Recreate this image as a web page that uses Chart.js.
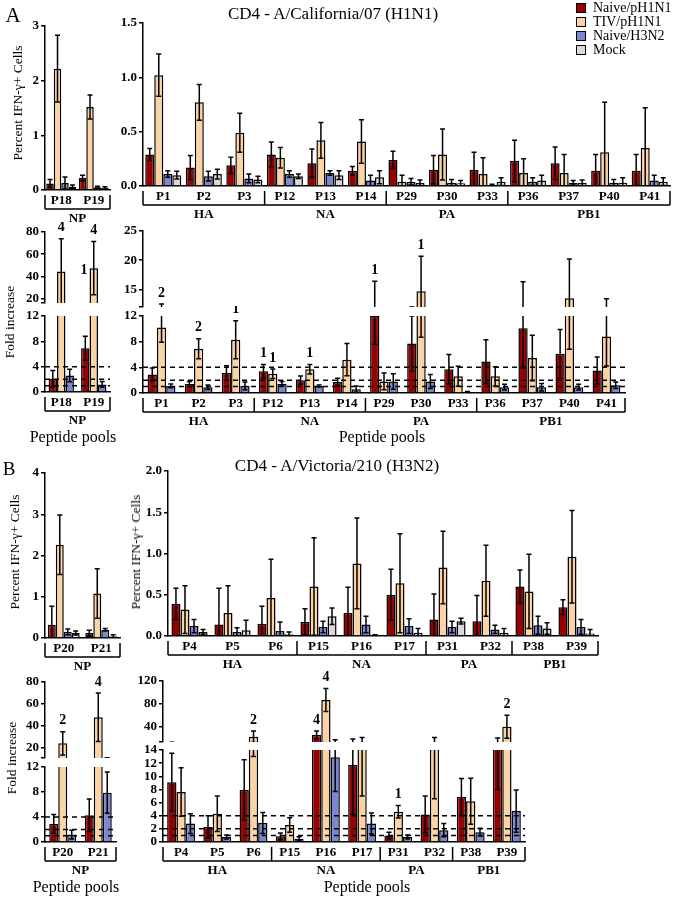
<!DOCTYPE html>
<html lang="en">
<head>
<meta charset="UTF-8">
<title>CD4 IFN-γ responses to peptide pools</title>
<script src="https://cdn.jsdelivr.net/npm/chart.js"></script>
<style>
  body { margin: 0; background: #fff; }
  #fig { position: relative; width: 675px; height: 898px; overflow: hidden;
         font-family: "Liberation Serif", "Times New Roman", serif; color: #000; }
  #fig canvas { position: absolute; }
  .t { position: absolute; white-space: nowrap; line-height: 14px; transform: translate(-50%, -50%); }
  .t.v { transform: translate(-50%, -50%) rotate(-90deg); }
  .legend { position: absolute; left: 576px; top: 1px; font-size: 14px; }
  .legend div { display: flex; align-items: center; height: 14px; }
  .legend span { display: inline-block; width: 8px; height: 8px; border: 1.5px solid #000; margin-right: 7px; }
</style>
</head>
<body>
<div id="fig"></div>
<script>
// ---------- data, panel A : CD4 - A/California/07 (H1N1) ----------
const catsA_NP = ['P18', 'P19'];
const catsA = ['P1', 'P2', 'P3', 'P12', 'P13', 'P14', 'P29', 'P30', 'P33', 'P36', 'P37', 'P40', 'P41'];
const groupNamesA = ['HA', 'NA', 'PA', 'PB1'];
const groupSizesA = [3, 3, 3, 4];

const pctA_NP_naiveH1 = [0.12, 0.22];
const pctA_NP_naiveH1Err = [0.07, 0.05];
const pctA_NP_tiv = [2.22, 1.52];
const pctA_NP_tivErr = [0.61, 0.22];
const pctA_NP_naiveH3 = [0.13, 0.05];
const pctA_NP_naiveH3Err = [0.11, 0.02];
const pctA_NP_mock = [0.06, 0.04];
const pctA_NP_mockErr = [0.03, 0.02];

const pctA_naiveH1 = [0.29, 0.17, 0.19, 0.29, 0.21, 0.14, 0.24, 0.15, 0.15, 0.23, 0.21, 0.14, 0.14];
const pctA_naiveH1Err = [0.055, 0.11, 0.075, 0.115, 0.13, 0.04, 0.08, 0.13, 0.16, 0.19, 0.15, 0.15, 0.15];
const pctA_tiv = [1.02, 0.77, 0.49, 0.26, 0.42, 0.41, 0.04, 0.29, 0.11, 0.12, 0.12, 0.31, 0.35];
const pctA_tivErr = [0.195, 0.165, 0.18, 0.095, 0.165, 0.2, 0.06, 0.235, 0.15, 0.13, 0.17, 0.46, 0.37];
const pctA_naiveH3 = [0.11, 0.09, 0.07, 0.11, 0.12, 0.05, 0.04, 0.03, 0.01, 0.04, 0.03, 0.03, 0.05];
const pctA_naiveH3Err = [0.03, 0.045, 0.04, 0.03, 0.02, 0.05, 0.03, 0.03, 0.005, 0.035, 0.02, 0.03, 0.05];
const pctA_mock = [0.10, 0.11, 0.06, 0.09, 0.10, 0.08, 0.03, 0.025, 0.04, 0.05, 0.03, 0.03, 0.04];
const pctA_mockErr = [0.035, 0.045, 0.03, 0.02, 0.04, 0.06, 0.025, 0.025, 0.035, 0.05, 0.025, 0.045, 0.035];

const foldA_NP_naiveH1 = [2.1, 6.9];
const foldA_NP_naiveH1Err = [1.3, 1.9];
const foldA_NP_tiv = [44.4, 47.4];
const foldA_NP_tivErr = [29.5, 24];
const foldA_NP_naiveH3 = [2.6, 1.2];
const foldA_NP_naiveH3Err = [1.0, 0.45];
const foldA_NP_tivMarks = ['4', '4'];
const foldA_NP_tivSideMarks = ['', '1'];

const foldA_naiveH1 = [2.9, 1.4, 3.1, 3.4, 2.0, 1.7, 12, 7.7, 3.7, 4.9, 10.1, 6.1, 3.5];
const foldA_naiveH1Err = [1.0, 0.4, 1.15, 1.05, 0.65, 0.6, 4.4, 4.3, 2.3, 3.4, 6.2, 3.8, 2.1];
const foldA_tiv = [10.2, 6.9, 8.3, 3.0, 3.7, 5.2, 1.8, 14.7, 2.6, 2.6, 5.45, 13.5, 8.8];
const foldA_tivErr = [2.3, 1.55, 2.95, 0.75, 0.75, 2.5, 1.3, 6.0, 1.55, 1.5, 3.55, 6.7, 4.6];
const foldA_naiveH3 = [1.1, 0.9, 1.1, 1.45, 1.1, 0.6, 1.8, 1.8, 0.15, 0.9, 0.9, 0.9, 1.2];
const foldA_naiveH3Err = [0.3, 0.35, 0.6, 0.35, 0.15, 0.5, 1.2, 1.1, 0.1, 0.45, 0.6, 0.45, 0.5];
const foldA_naiveH1Marks = ['', '', '', '1', '', '', '1', '', '', '', '', '', ''];
const foldA_tivMarks = ['2', '2', '1', '1', '1', '', '', '1', '', '', '', '', ''];

// ---------- data, panel B : CD4 - A/Victoria/210 (H3N2) ----------
const catsB_NP = ['P20', 'P21'];
const catsB = ['P4', 'P5', 'P6', 'P15', 'P16', 'P17', 'P31', 'P32', 'P38', 'P39'];
const groupNamesB = ['HA', 'NA', 'PA', 'PB1'];
const groupSizesB = [3, 3, 2, 2];

const pctB_NP_naiveH1 = [0.32, 0.12];
const pctB_NP_naiveH1Err = [0.45, 0.07];
const pctB_NP_tiv = [2.26, 1.08];
const pctB_NP_tivErr = [0.72, 0.6];
const pctB_NP_naiveH3 = [0.15, 0.2];
const pctB_NP_naiveH3Err = [0.07, 0.03];
const pctB_NP_mock = [0.12, 0.04];
const pctB_NP_mockErr = [0.05, 0.04];

const pctB_naiveH1 = [0.39, 0.14, 0.15, 0.17, 0.28, 0.5, 0.2, 0.18, 0.6, 0.35];
const pctB_naiveH1Err = [0.19, 0.44, 0.21, 0.16, 0.31, 0.31, 0.31, 0.31, 0.2, 0.09];
const pctB_tiv = [0.32, 0.28, 0.46, 0.6, 0.88, 0.64, 0.83, 0.67, 0.54, 0.96];
const pctB_tivErr = [0.29, 0.33, 0.47, 0.59, 0.55, 0.6, 0.44, 0.43, 0.45, 0.56];
const pctB_naiveH3 = [0.12, 0.05, 0.06, 0.11, 0.14, 0.12, 0.11, 0.08, 0.13, 0.11];
const pctB_naiveH3Err = [0.08, 0.05, 0.11, 0.07, 0.1, 0.09, 0.07, 0.05, 0.11, 0.09];
const pctB_mock = [0.05, 0.07, 0.02, 0.24, 0.01, 0.04, 0.18, 0.04, 0.09, 0.03];
const pctB_mockErr = [0.03, 0.12, 0.03, 0.1, 0.005, 0.05, 0.035, 0.05, 0.07, 0.05];

const foldB_NP_naiveH1 = [2.9, 4.3];
const foldB_NP_naiveH1Err = [1.5, 2.6];
const foldB_NP_tiv = [24.3, 47.9];
const foldB_NP_tivErr = [10.5, 22];
const foldB_NP_naiveH3 = [1.2, 7.9];
const foldB_NP_naiveH3Err = [0.7, 3.3];
const foldB_NP_tivMarks = ['2', '4'];

const foldB_naiveH1 = [9.1, 2.3, 7.9, 0.86, 26, 11.7, 1.0, 4.2, 6.85, 14.5];
const foldB_naiveH1Err = [4.4, 1.7, 4.6, 0.5, 7, 7.5, 0.5, 2.8, 2.8, 6.5];
const foldB_tiv = [7.6, 4.3, 23, 2.6, 87, 14.5, 4.6, 14.2, 6.2, 40.5];
const foldB_tivErr = [3.7, 2.7, 10, 1.1, 20, 7.5, 0.95, 7.6, 3.5, 20];
const foldB_naiveH3 = [2.8, 0.76, 2.9, 0.5, 12.9, 2.8, 0.76, 1.8, 1.5, 4.7];
const foldB_naiveH3Err = [1.5, 0.3, 1.6, 0.3, 5.2, 1.6, 0.3, 1.0, 0.6, 3.2];
const foldB_naiveH1Marks = ['', '', '', '', '4', '', '', '', '', ''];
const foldB_tivMarks = ['', '', '2', '', '4', '', '1', '', '', '2'];

// ---------- axes ----------
const ticksPctA_NP = [0, 1, 2, 3];
const ticksPctA = [0, 0.5, 1.0, 1.5];
const ticksFoldA_NP_upper = [20, 40, 60, 80];
const ticksFoldA_upper = [15, 20, 25];
const ticksFoldLow12 = [0, 4, 8, 12];
const ticksPctB_NP = [0, 1, 2, 3, 4];
const ticksPctB = [0, 0.5, 1.0, 1.5, 2.0];
const ticksFoldB_NP_upper = [20, 40, 60, 80];
const ticksFoldB_upper = [40, 80, 120];
const ticksFoldB_lower = [0, 2, 4, 6, 8, 10, 12, 14];
const cutoffs = [1, 2, 4];

const seriesNames = ['Naive/pH1N1', 'TIV/pH1N1', 'Naive/H3N2', 'Mock'];
const seriesColors = ['#990000', '#fbd3a4', '#7b87d1', '#d9d9d9'];

// ---------- drawing ----------
Chart.defaults.font.family = '"Liberation Serif", "Times New Roman", serif';
Chart.defaults.color = '#000';

const fig = document.getElementById('fig');
const YW = 40, PT = 10, PR = 6, XH = 42;

function text(str, x, y, size, opts = {}) {
  const d = document.createElement('div');
  d.className = 't' + (opts.vertical ? ' v' : '');
  d.style.left = x + 'px';
  d.style.top = y + 'px';
  d.style.fontSize = size + 'px';
  if (opts.bold) d.style.fontWeight = 'bold';
  d.textContent = str;
  fig.appendChild(d);
}

function overlay(p) {
  return {
    id: 'overlay',
    afterDatasetsDraw(chart) {
      const { ctx, chartArea: a, scales: { y } } = chart;
      ctx.save();
      ctx.beginPath();
      ctx.rect(a.left, a.top, a.right - a.left, a.bottom - a.top);
      ctx.clip();
      ctx.strokeStyle = '#000';
      ctx.lineWidth = 1.5;
      // error bars
      chart.data.datasets.forEach((ds, i) => {
        chart.getDatasetMeta(i).data.forEach((el, j) => {
          const v = ds.data[j], e = ds.err[j];
          const yt = y.getPixelForValue(v + e);
          const yb = y.getPixelForValue(Math.max(v - e, 0));
          ctx.beginPath();
          ctx.moveTo(el.x, yt); ctx.lineTo(el.x, yb);
          ctx.moveTo(el.x - 2.5, yt); ctx.lineTo(el.x + 2.5, yt);
          ctx.moveTo(el.x - 2.5, yb); ctx.lineTo(el.x + 2.5, yb);
          ctx.stroke();
        });
      });
      // response cut-offs
      if (p.dashed) {
        ctx.setLineDash([5, 4]);
        p.dashed.forEach(v => {
          const yy = y.getPixelForValue(v);
          ctx.beginPath(); ctx.moveTo(a.left, yy); ctx.lineTo(a.right, yy); ctx.stroke();
        });
        ctx.setLineDash([]);
      }
      ctx.restore();

      // responder counts above bars
      ctx.save();
      ctx.font = 'bold 14px "Liberation Serif"';
      ctx.fillStyle = '#000';
      ctx.textBaseline = 'middle';
      chart.data.datasets.forEach((ds, i) => {
        const els = chart.getDatasetMeta(i).data;
        (ds.marks || []).forEach((m, j) => {
          const top = ds.data[j] + ds.err[j];
          if (!m || top <= y.min || top > y.max) return;
          ctx.textAlign = 'center';
          ctx.fillText(m, els[j].x, y.getPixelForValue(top) - 11);
        });
        (ds.sideMarks || []).forEach((m, j) => {
          const v = ds.data[j];
          if (!m || v <= y.min || v > y.max) return;
          ctx.textAlign = 'right';
          ctx.fillText(m, els[j].x - els[j].width / 2 - 2, y.getPixelForValue(v) + 2);
        });
      });
      ctx.restore();
    },
    afterDraw(chart) {
      if (!p.groups) return;
      const { ctx, chartArea: a } = chart;
      const n = chart.data.labels.length, cw = (a.right - a.left) / n;
      const yl = a.bottom + 19;
      const xs = [a.left];
      let k = 0;
      p.groups[1].forEach(s => { k += s; xs.push(a.left + k * cw); });
      ctx.save();
      ctx.strokeStyle = '#000';
      ctx.lineWidth = 1.5;
      ctx.beginPath();
      ctx.moveTo(xs[0], yl); ctx.lineTo(xs[xs.length - 1], yl);
      xs.forEach(xx => { ctx.moveTo(xx, a.bottom + 5); ctx.lineTo(xx, yl); });
      ctx.stroke();
      ctx.font = 'bold 13px "Liberation Serif"';
      ctx.fillStyle = '#000';
      ctx.textAlign = 'center';
      ctx.textBaseline = 'middle';
      p.groups[0].forEach((g, i) => ctx.fillText(g, (xs[i] + xs[i + 1]) / 2, a.bottom + 29));
      ctx.restore();
    }
  };
}

function panel(p) {
  const c = document.createElement('canvas');
  c.width = p.right - p.left + YW + PR;
  c.height = p.bottom - p.top + PT + (p.xAxis ? XH : PT);
  c.style.left = (p.left - YW) + 'px';
  c.style.top = (p.top - PT) + 'px';
  fig.appendChild(c);

  const datasets = p.values.map((v, i) => ({
    label: seriesNames[i],
    data: v,
    err: p.errs[i],
    marks: p.marks ? p.marks[i] : null,
    sideMarks: p.sideMarks ? p.sideMarks[i] : null,
    backgroundColor: seriesColors[i],
    borderColor: '#000',
    borderWidth: 1.5,
    borderSkipped: 'start',
    barPercentage: 1,
    categoryPercentage: p.catPct
  }));
  const tickVals = p.yMin > 0 ? [p.yMin].concat(p.ticks) : p.ticks;

  const xScale = {
    display: !!p.xAxis,
    offset: true,
    grid: { display: false, drawTicks: false },
    border: { display: true, color: '#000', width: 1.5 },
    ticks: { autoSkip: false, maxRotation: 0, padding: 3, font: { size: 13, weight: 'bold' } }
  };
  if (p.xAxis) xScale.afterFit = s => { s.height = XH; };

  new Chart(c, {
    type: 'bar',
    data: { labels: p.cats, datasets },
    options: {
      responsive: false,
      animation: false,
      layout: { padding: { top: PT, right: PR, bottom: p.xAxis ? 0 : PT, left: 0 } },
      plugins: { legend: { display: false }, tooltip: { enabled: false } },
      scales: {
        x: xScale,
        y: {
          min: p.yMin, max: p.yMax,
          grid: { drawOnChartArea: false, drawTicks: true, tickLength: 4, color: '#000', lineWidth: 1.5 },
          border: { display: true, color: '#000', width: 1.5 },
          ticks: {
            autoSkip: false,
            padding: 2,
            font: { size: 13, weight: 'bold' },
            callback: v => p.ticks.includes(v) ? (p.dec ? v.toFixed(p.dec) : String(v)) : ''
          },
          afterBuildTicks: s => { s.ticks = tickVals.map(v => ({ value: v })); },
          afterFit: s => { s.width = YW; }
        }
      }
    },
    plugins: [overlay(p)]
  });
}

// ----- panel A -----
panel({ left: 45, right: 110, top: 26, bottom: 190, yMin: 0, yMax: 3, ticks: ticksPctA_NP,
  cats: catsA_NP, catPct: 0.92, xAxis: true, groups: [['NP'], [2]],
  values: [pctA_NP_naiveH1, pctA_NP_tiv, pctA_NP_naiveH3, pctA_NP_mock],
  errs: [pctA_NP_naiveH1Err, pctA_NP_tivErr, pctA_NP_naiveH3Err, pctA_NP_mockErr] });

panel({ left: 143, right: 670, top: 23, bottom: 186, yMin: 0, yMax: 1.5, ticks: ticksPctA, dec: 1,
  cats: catsA, catPct: 0.89, xAxis: true, groups: [groupNamesA, groupSizesA],
  values: [pctA_naiveH1, pctA_tiv, pctA_naiveH3, pctA_mock],
  errs: [pctA_naiveH1Err, pctA_tivErr, pctA_naiveH3Err, pctA_mockErr] });

const foldA_NP = {
  cats: catsA_NP, catPct: 0.78,
  values: [foldA_NP_naiveH1, foldA_NP_tiv, foldA_NP_naiveH3],
  errs: [foldA_NP_naiveH1Err, foldA_NP_tivErr, foldA_NP_naiveH3Err],
  marks: [null, foldA_NP_tivMarks, null], sideMarks: [null, foldA_NP_tivSideMarks, null]
};
panel(Object.assign({ left: 45, right: 110, top: 232, bottom: 303.5, yMin: 16, yMax: 80,
  ticks: ticksFoldA_NP_upper }, foldA_NP));
panel(Object.assign({ left: 45, right: 110, top: 316, bottom: 392, yMin: 0, yMax: 12,
  ticks: ticksFoldLow12, xAxis: true, dashed: cutoffs, groups: [['NP'], [2]] }, foldA_NP));

const foldA = {
  cats: catsA, catPct: 0.75,
  values: [foldA_naiveH1, foldA_tiv, foldA_naiveH3],
  errs: [foldA_naiveH1Err, foldA_tivErr, foldA_naiveH3Err],
  marks: [foldA_naiveH1Marks, foldA_tivMarks, null]
};
panel(Object.assign({ left: 143, right: 625.5, top: 231, bottom: 307.7, yMin: 12, yMax: 25,
  ticks: ticksFoldA_upper }, foldA));
panel(Object.assign({ left: 143, right: 625.5, top: 316, bottom: 393, yMin: 0, yMax: 12,
  ticks: ticksFoldLow12, xAxis: true, dashed: cutoffs, groups: [groupNamesA, groupSizesA] }, foldA));

// ----- panel B -----
panel({ left: 45, right: 120, top: 473, bottom: 638, yMin: 0, yMax: 4, ticks: ticksPctB_NP,
  cats: catsB_NP, catPct: 0.85, xAxis: true, groups: [['NP'], [2]],
  values: [pctB_NP_naiveH1, pctB_NP_tiv, pctB_NP_naiveH3, pctB_NP_mock],
  errs: [pctB_NP_naiveH1Err, pctB_NP_tivErr, pctB_NP_naiveH3Err, pctB_NP_mockErr] });

panel({ left: 168, right: 598, top: 471, bottom: 636, yMin: 0, yMax: 2, ticks: ticksPctB, dec: 1,
  cats: catsB, catPct: 0.84, xAxis: true, groups: [groupNamesB, groupSizesB],
  values: [pctB_naiveH1, pctB_tiv, pctB_naiveH3, pctB_mock],
  errs: [pctB_naiveH1Err, pctB_tivErr, pctB_naiveH3Err, pctB_mockErr] });

const foldB_NP = {
  cats: catsB_NP, catPct: 0.76,
  values: [foldB_NP_naiveH1, foldB_NP_tiv, foldB_NP_naiveH3],
  errs: [foldB_NP_naiveH1Err, foldB_NP_tivErr, foldB_NP_naiveH3Err],
  marks: [null, foldB_NP_tivMarks, null]
};
panel(Object.assign({ left: 45, right: 116, top: 682, bottom: 758, yMin: 11, yMax: 80,
  ticks: ticksFoldB_NP_upper }, foldB_NP));
panel(Object.assign({ left: 45, right: 116, top: 767, bottom: 842, yMin: 0, yMax: 12,
  ticks: ticksFoldLow12, xAxis: true, dashed: cutoffs, groups: [['NP'], [2]] }, foldB_NP));

const foldB = {
  cats: catsB, catPct: 0.77,
  values: [foldB_naiveH1, foldB_tiv, foldB_naiveH3],
  errs: [foldB_naiveH1Err, foldB_tivErr, foldB_naiveH3Err],
  marks: [foldB_naiveH1Marks, foldB_tivMarks, null]
};
panel(Object.assign({ left: 163, right: 525, top: 681, bottom: 742, yMin: 14, yMax: 120,
  ticks: ticksFoldB_upper }, foldB));
panel(Object.assign({ left: 163, right: 525, top: 750, bottom: 842, yMin: 0, yMax: 14,
  ticks: ticksFoldB_lower, xAxis: true, dashed: cutoffs, groups: [groupNamesB, groupSizesB] }, foldB));

// ----- titles and labels -----
text('A', 13, 15, 21);
text('CD4 - A/California/07 (H1N1)', 333, 14, 17);
text('B', 9, 469, 19);
text('CD4 - A/Victoria/210 (H3N2)', 337, 466, 17);
text('Percent IFN-γ+ Cells', 18, 103, 13.5, { vertical: true });
text('Fold increase', 10, 322, 13.5, { vertical: true });
text('Percent IFN-γ+ Cells', 15, 552, 13.5, { vertical: true });
text('Percent IFN-γ+ Cells', 136, 552, 13.5, { vertical: true });
text('Fold increase', 12, 758, 13.5, { vertical: true });
text('Peptide pools', 73, 437, 16);
text('Peptide pools', 382, 437, 16);
text('Peptide pools', 76, 887, 16);
text('Peptide pools', 367, 887, 16);

const lg = document.createElement('div');
lg.className = 'legend';
seriesNames.forEach((n, i) => {
  const row = document.createElement('div');
  const sw = document.createElement('span');
  sw.style.background = seriesColors[i];
  row.appendChild(sw);
  row.appendChild(document.createTextNode(n));
  lg.appendChild(row);
});
fig.appendChild(lg);
</script>
</body>
</html>
